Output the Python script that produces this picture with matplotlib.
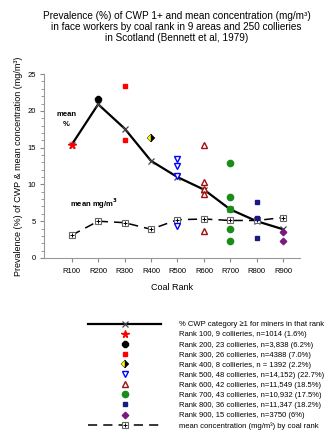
import numpy as np
import matplotlib
matplotlib.use('Agg')
import matplotlib.pyplot as plt

plt.rcParams['font.family'] = ['Liberation Sans', 'DejaVu Sans']

# coal ranks on the x axis
ranks = ['R100', 'R200', 'R300', 'R400', 'R500', 'R600', 'R700', 'R800', 'R900']
xpos = np.arange(1, 10)

# % CWP category >=1 by rank (solid line)
cwp_mean = [15.4, 20.9, 17.6, 13.2, 11.0, 9.3, 6.6, 5.0, 3.9]
# mean concentration mg/m3 by rank (dashed line)
conc_mean = [3.1, 5.0, 4.8, 3.9, 5.2, 5.3, 5.1, 5.1, 5.5]

# individual area values per rank
r100 = [15.4]
r200 = [21.6]
r300 = [23.4, 16.1]
r400 = [16.3]
r500 = [13.4, 12.5, 11.1, 4.3]
r600 = [15.4, 10.3, 9.4, 8.7, 3.7]
r700 = [12.9, 8.3, 6.7, 3.9, 2.3]
r800 = [7.6, 5.4, 2.7]
r900 = [3.6, 2.3]

labels = ['Rank 100, 9 collieries, n=1014 (1.6%)',
          'Rank 200, 23 collieries, n=3,838 (6.2%)',
          'Rank 300, 26 collieries, n=4388 (7.0%)',
          'Rank 400, 8 collieries, n = 1392 (2.2%)',
          'Rank 500, 48 collieries, n=14,152) (22.7%)',
          'Rank 600, 42 collieries, n=11,549 (18.5%)',
          'Rank 700, 43 collieries, n=10,932 (17.5%)',
          'Rank 800, 36 collieries, n=11,347 (18.2%)',
          'Rank 900, 15 collieries, n=3750 (6%)']

fig = plt.figure(figsize=(3.33, 4.41), dpi=100)
ax = fig.add_axes([0.132, 0.415, 0.77, 0.417])

# line drawn first so the points sit on top
cwp_line, = ax.plot(xpos, cwp_mean, color='black', lw=1.6, marker='x',
                    mec='#444444', ms=4.5, mew=0.9, zorder=3)
conc_line, = ax.plot(xpos, conc_mean, color='black', lw=1.1, dashes=(6, 4),
                     marker='s', mfc='white', mec='#666666', ms=5, mew=0.8, zorder=3)
conc_plus, = ax.plot(xpos, conc_mean, ls='none', marker='+', color='black',
                     ms=3, mew=0.7, zorder=4)

styles = [
    dict(marker='*', color='red', ms=5.5),
    dict(marker='8', color='black', ms=4.8),
    dict(marker='s', color='red', ms=3.2),
    dict(marker='D', color='black', markerfacecoloralt='yellow', fillstyle='right', ms=3.6, mec='black', mew=0.3),
    dict(marker='v', color='blue', mfc='white', ms=4.8, mew=1.0),
    dict(marker='^', color='#a01010', mfc='white', ms=4.8, mew=1.0),
    dict(marker='o', color='#1a8c1a', ms=4.5),
    dict(marker='s', color='#1a1a80', ms=3.2),
    dict(marker='D', color='#7a1a80', ms=3.3),
]
groups = [r100, r200, r300, r400, r500, r600, r700, r800, r900]

handles = [cwp_line]
for i in range(len(groups)):
    h, = ax.plot([xpos[i]] * len(groups[i]), groups[i], ls='none', zorder=5, **styles[i])
    handles.append(h)
handles.append((conc_line, conc_plus))

ax.text(0.8, 19.3, 'mean', fontsize=5.5, fontweight='bold', ha='center')
ax.text(0.8, 18.0, '%', fontsize=5.5, fontweight='bold', ha='center')
ax.text(0.92, 6.9, 'mean mg/m$^\\mathbf{3}$', fontsize=5.5, fontweight='bold', ha='left')

ax.set_xlim(-0.05, 9.65)
ax.set_ylim(0, 25)
ax.set_xticks(xpos)
ax.set_xticklabels(ranks)
ax.set_yticks([0, 5, 10, 15, 20, 25])
ax.set_yticks(np.arange(0, 26, 1), minor=True)
ax.tick_params(labelsize=5.5, length=3, color='#888888')
ax.tick_params(axis='x', pad=4)
ax.tick_params(axis='y', which='minor', length=2, color='#888888')
ax.tick_params(axis='y', pad=3)
for s in ['top', 'right']:
    ax.spines[s].set_visible(False)
for s in ['left', 'bottom']:
    ax.spines[s].set_color('#999999')
ax.set_xlabel('Coal Rank', fontsize=6.5, labelpad=6)
ax.set_ylabel('Prevalence (%) of CWP & mean concentration (mg/m³)', fontsize=6.5, labelpad=3)

fig.suptitle('Prevalence (%) of CWP 1+ and mean concentration (mg/m³)\n'
             'in face workers by coal rank in 9 areas and 250 collieries\n'
             'in Scotland (Bennett et al, 1979)', fontsize=7.2, y=0.975, x=0.53,
             linespacing=1.1)

leg_labels = ['% CWP category ≥1 for miners in that rank'] + labels + \
             ['mean concentration (mg/m³) by coal rank']
fig.legend(handles, leg_labels, loc='upper left', bbox_to_anchor=(0.265, 0.272),
           frameon=False, fontsize=5.5, handlelength=9.5, handletextpad=2.4,
           labelspacing=0.36, borderpad=0, borderaxespad=0)

plt.savefig('out.png', dpi=100)
